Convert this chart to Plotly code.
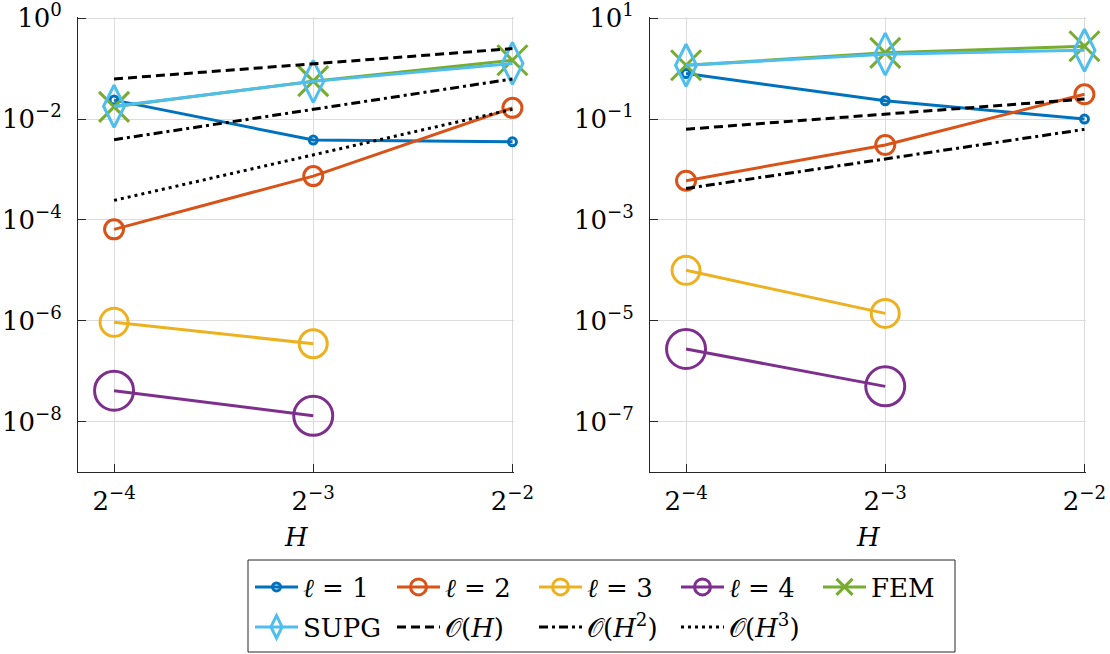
import plotly.graph_objects as go

# ---------------- data ----------------
H = [0.0625, 0.125, 0.25]          # 2^-4, 2^-3, 2^-2
H_two = [0.0625, 0.125]            # levels with l=3, l=4 data
H_ref = [0.0625, 0.25]             # end points of reference slopes

x_tickvals = [0.0625, 0.125, 0.25]
x_ticktext = ["2<sup>−4</sup>", "2<sup>−3</sup>", "2<sup>−2</sup>"]
x_title = "<i>H</i>"

left_tickvals = [1, 1e-2, 1e-4, 1e-6, 1e-8]
left_ticktext = ["10<sup>0</sup>", "10<sup>−2</sup>", "10<sup>−4</sup>", "10<sup>−6</sup>", "10<sup>−8</sup>"]
right_tickvals = [10, 1e-1, 1e-3, 1e-5, 1e-7]
right_ticktext = ["10<sup>1</sup>", "10<sup>−1</sup>", "10<sup>−3</sup>", "10<sup>−5</sup>", "10<sup>−7</sup>"]

# left panel
l1_left = [0.0238, 0.00384, 0.00355]
l2_left = [6.5e-5, 7.4e-4, 0.0167]
l3_left = [9.3e-7, 3.5e-7]
l4_left = [4.1e-8, 1.3e-8]
fem_left = [0.0175, 0.0565, 0.147]
supg_left = [0.018, 0.056, 0.127]
oh1_left = [0.0625, 0.25]
oh2_left = [0.0039, 0.0625]
oh3_left = [0.000244, 0.0156]

# right panel
l1_right = [0.80, 0.23, 0.10]
l2_right = [0.0060, 0.0306, 0.31]
l3_right = [1.0e-4, 1.4e-5]
l4_right = [2.75e-6, 5.0e-7]
fem_right = [1.17, 2.06, 2.79]
supg_right = [1.17, 1.94, 2.32]
oh1_right = [0.063, 0.25]
oh2_right = [0.0042, 0.0625]

names = ["<i>ℓ</i> = 1", "<i>ℓ</i> = 2", "<i>ℓ</i> = 3", "<i>ℓ</i> = 4", "FEM",
         "SUPG", "𝒪(<i>H</i>)", "𝒪(<i>H</i><sup>2</sup>)", "𝒪(<i>H</i><sup>3</sup>)"]

# ---------------- styles ----------------
FONT = "DejaVu Serif"
AX = "#262626"
GRID = "#dcdcdc"
LW = 3
FS = 26

styles = [
    dict(color="#0072BD", symbol="circle-open", size=8),
    dict(color="#D95319", symbol="circle-open", size=19),
    dict(color="#EDB120", symbol="circle-open", size=28),
    dict(color="#7E2F8E", symbol="circle-open", size=39),
    dict(color="#77AC30", symbol="x-thin-open", size=30),
    dict(color="#4DBEEE", symbol="diamond-tall-open", size=30),
]
ref_dash = ["9px,5px", "9px,4px,3px,4px", "3px,4px"]

fig = go.Figure()

def add_panel(xa, ya, series, refs, show):
    xs = [H, H, H_two, H_two, H, H]
    for i, (y, st) in enumerate(zip(series, styles)):
        fig.add_trace(go.Scatter(
            x=xs[i], y=y, name=names[i], mode="lines+markers", cliponaxis=False,
            line=dict(color=st["color"], width=LW),
            marker=dict(symbol=st["symbol"], size=st["size"], color=st["color"],
                        line=dict(color=st["color"], width=LW)),
            xaxis=xa, yaxis=ya, showlegend=show,
            legend="legend" if i < 5 else "legend2"))
    for j, y in enumerate(refs):
        fig.add_trace(go.Scatter(
            x=H_ref, y=y, name=names[6 + j], mode="lines", cliponaxis=False,
            line=dict(color="black", width=LW, dash=ref_dash[j]),
            xaxis=xa, yaxis=ya, showlegend=show, legend="legend2"))

add_panel("x", "y", [l1_left, l2_left, l3_left, l4_left, fem_left, supg_left],
          [oh1_left, oh2_left, oh3_left], True)
add_panel("x2", "y2", [l1_right, l2_right, l3_right, l4_right, fem_right, supg_right],
          [oh1_right, oh2_right], False)

W, Hh = 1110, 654
xrange_log = [-1.2586, -0.5997]

def xaxis(dom):
    return dict(type="log", domain=dom, range=xrange_log, automargin=False,
                tickvals=x_tickvals, ticktext=x_ticktext,
                showline=True, linecolor=AX, linewidth=1, mirror=False,
                showgrid=True, gridcolor=GRID, gridwidth=1,
                ticks="inside", ticklen=8, tickcolor=AX,
                ticklabelstandoff=6, zeroline=False, ticklabeloverflow="allow",
                tickfont=dict(family=FONT, size=FS, color="black"))

def yaxis(dom_y, rng, tv, tt, anchor):
    return dict(type="log", domain=dom_y, range=rng, anchor=anchor, automargin=False,
                tickvals=tv, ticktext=tt,
                showline=True, linecolor=AX, linewidth=1, mirror=False,
                showgrid=True, gridcolor=GRID, gridwidth=1,
                ticks="inside", ticklen=8, tickcolor=AX,
                ticklabelstandoff=10, zeroline=False, ticklabeloverflow="allow",
                tickfont=dict(family=FONT, size=FS, color="black"))

ydom = [(Hh - 472) / Hh, (Hh - 17) / Hh]

leg_common = dict(orientation="h", x=250 / W, xanchor="left", yanchor="middle",
                  bgcolor="rgba(0,0,0,0)", borderwidth=0, entrywidth=84,
                  entrywidthmode="pixels", itemwidth=43,
                  font=dict(family=FONT, size=FS, color="black"))

title_annots = [dict(text=x_title, xref=f"{xa} domain", yref="paper", x=0.5,
                     y=(Hh - 537) / Hh, xanchor="center", yanchor="middle",
                     showarrow=False, font=dict(family=FONT, size=FS, color="black"))
                for xa in ("x", "x2")]

fig.update_layout(
    width=W, height=Hh,
    margin=dict(l=0, r=0, t=0, b=0, autoexpand=False),
    paper_bgcolor="white", plot_bgcolor="white",
    font=dict(family=FONT, size=FS, color="black"),
    xaxis=dict(xaxis([78 / W, 514 / W]), anchor="y"),
    xaxis2=dict(xaxis([650 / W, 1086 / W]), anchor="y2"),
    yaxis=yaxis(ydom, [-9, 0.025], left_tickvals, left_ticktext, "x"),
    yaxis2=yaxis(ydom, [-8, 1.025], right_tickvals, right_ticktext, "x2"),
    legend=dict(leg_common, y=(Hh - 587) / Hh),
    legend2=dict(leg_common, y=(Hh - 627) / Hh),
    annotations=title_annots,
    shapes=[dict(type="rect", xref="paper", yref="paper",
                 x0=248 / W, x1=955 / W, y0=(Hh - 652) / Hh, y1=(Hh - 560) / Hh,
                 line=dict(color=AX, width=1), fillcolor="rgba(0,0,0,0)")],
)

fig.write_html("out.html")
